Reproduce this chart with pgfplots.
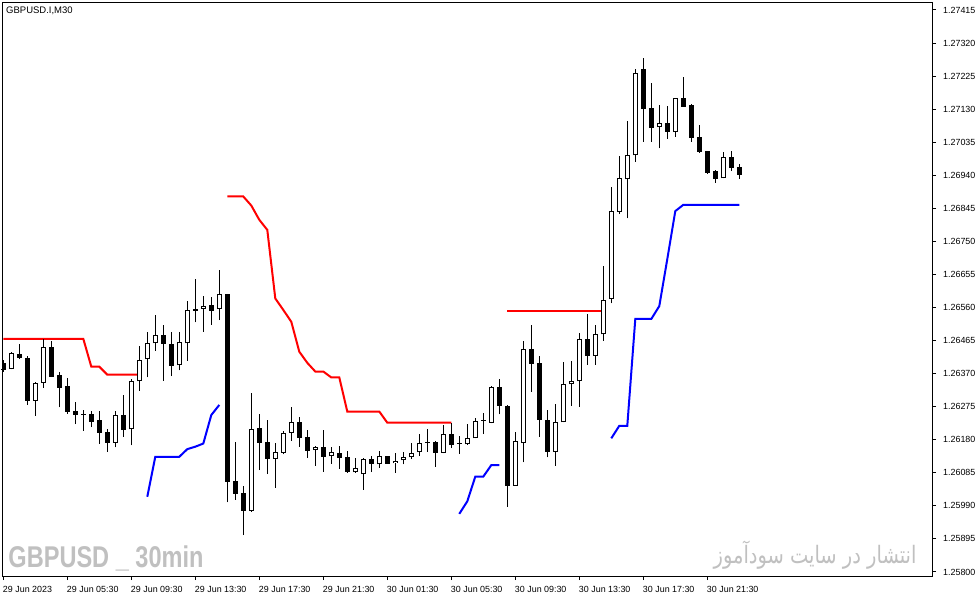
\documentclass[border=0pt]{standalone}
\usepackage{fontspec}
\setmainfont{Liberation Sans}
\newfontfamily\arabicfont[Script=Arabic]{DejaVu Sans}
\TeXXeTstate=1
\usepackage{graphicx}
\usepackage{pgfplots}
\usepackage{pgfplotstable}
\pgfplotsset{compat=1.18}

\definecolor{wm}{RGB}{192,192,192}

% bar index, open, high, low, close (M30, from 29 Jun 01:30)
\pgfplotstableread{
k  o       h       l       c
1  1.26384 1.26433 1.26382 1.26428
4  1.26292 1.26346 1.26249 1.26343
5  1.26344 1.26469 1.26330 1.26446
14 1.26172 1.26264 1.26158 1.26250
16 1.26210 1.26355 1.26164 1.26348
17 1.26348 1.26448 1.26321 1.26409
18 1.26411 1.26490 1.26359 1.26457
19 1.26457 1.26539 1.26436 1.26480
22 1.26394 1.26490 1.26379 1.26461
23 1.26457 1.26578 1.26407 1.26553
25 1.26557 1.26593 1.26490 1.26564
27 1.26555 1.26668 1.26524 1.26599
31 1.25976 1.26313 1.25973 1.26210
34 1.26125 1.26170 1.26042 1.26144
35 1.26143 1.26205 1.26138 1.26200
36 1.26200 1.26275 1.26177 1.26230
39 1.26150 1.26162 1.26105 1.26159
41 1.26132 1.26160 1.26111 1.26144
44 1.26086 1.26127 1.26085 1.26098
45 1.26081 1.26127 1.26036 1.26124
47 1.26109 1.26148 1.26100 1.26134
49 1.26112 1.26141 1.26085 1.26118
50 1.26121 1.26144 1.26109 1.26129
51 1.26129 1.26172 1.26124 1.26141
52 1.26144 1.26197 1.26133 1.26170
55 1.26143 1.26222 1.26141 1.26196
58 1.26167 1.26224 1.26166 1.26184
59 1.26184 1.26242 1.26184 1.26234
61 1.26229 1.26334 1.26227 1.26331
64 1.26048 1.26202 1.26048 1.26176
65 1.26170 1.26464 1.26115 1.26440
69 1.26146 1.26283 1.26105 1.26230
70 1.26230 1.26403 1.26230 1.26339
71 1.26339 1.26407 1.26278 1.26348
72 1.26348 1.26486 1.26275 1.26469
74 1.26422 1.26510 1.26396 1.26483
75 1.26483 1.26679 1.26465 1.26582
76 1.26584 1.26905 1.26572 1.26838
77 1.26835 1.26995 1.26828 1.26931
78 1.26928 1.27096 1.26816 1.26997
79 1.26997 1.27244 1.26979 1.27233
82 1.27078 1.27142 1.27017 1.27089
84 1.27064 1.27163 1.27051 1.27161
90 1.26931 1.27007 1.26931 1.26992
}\bull

\pgfplotstableread{
k  o       h       l       c
0  1.26401 1.26409 1.26375 1.26382
2  1.26426 1.26455 1.26413 1.26416
3  1.26415 1.26422 1.26281 1.26292
6  1.26446 1.26465 1.26360 1.26363
7  1.26365 1.26375 1.26273 1.26331
8  1.26334 1.26357 1.26254 1.26260
9  1.26262 1.26288 1.26225 1.26252
10 1.26253 1.26266 1.26206 1.26253
11 1.26254 1.26263 1.26216 1.26232
12 1.26237 1.26264 1.26168 1.26200
13 1.26202 1.26210 1.26146 1.26172
15 1.26250 1.26309 1.26189 1.26210
20 1.26480 1.26510 1.26350 1.26457
21 1.26455 1.26490 1.26363 1.26394
24 1.26555 1.26643 1.26517 1.26551
26 1.26568 1.26589 1.26511 1.26551
28 1.26599 1.26600 1.26000 1.26060
29 1.26061 1.26174 1.26007 1.26026
30 1.26026 1.26047 1.25906 1.25976
32 1.26213 1.26254 1.26093 1.26172
33 1.26173 1.26237 1.26081 1.26125
37 1.26230 1.26246 1.26160 1.26187
38 1.26187 1.26208 1.26128 1.26148
40 1.26160 1.26208 1.26088 1.26132
42 1.26141 1.26162 1.26096 1.26129
43 1.26129 1.26148 1.26085 1.26088
46 1.26124 1.26133 1.26087 1.26112
48 1.26132 1.26132 1.26112 1.26112
53 1.26173 1.26210 1.26145 1.26173
54 1.26173 1.26175 1.26102 1.26144
56 1.26196 1.26227 1.26156 1.26167
57 1.26169 1.26191 1.26140 1.26169
60 1.26234 1.26256 1.26196 1.26234
62 1.26331 1.26354 1.26253 1.26278
63 1.26277 1.26280 1.25988 1.26048
66 1.26440 1.26510 1.26318 1.26400
67 1.26400 1.26421 1.26189 1.26239
68 1.26237 1.26266 1.26129 1.26146
73 1.26469 1.26541 1.26396 1.26422
80 1.27244 1.27277 1.27037 1.27131
81 1.27132 1.27205 1.27037 1.27077
83 1.27089 1.27139 1.27045 1.27065
85 1.27161 1.27222 1.27137 1.27137
86 1.27142 1.27145 1.27037 1.27048
87 1.27049 1.27085 1.27005 1.27008
88 1.27010 1.27010 1.26945 1.26947
89 1.26952 1.26955 1.26919 1.26930
91 1.26993 1.27010 1.26952 1.26962
92 1.26963 1.26973 1.26930 1.26942
}\bear

\begin{document}
\begin{tikzpicture}
\fill[white] (0,0) rectangle (978bp,597bp);
\path[use as bounding box] (0,0) rectangle (978bp,597bp);

\begin{axis}[
  at={(2.5bp,21bp)}, anchor=south west,
  scale only axis, width=929.5bp, height=573.5bp,
  xmin=-0.1, xmax=116.09,
  ymin=1.257884, ymax=1.274365,
  axis line style={line width=1bp, black},
  tick style={line width=1bp, black},
  tick align=outside, major tick length=4bp,
  xtick pos=lower, ytick pos=right,
  xtick={0,8,...,88},
  xticklabels={29 Jun 2023, 29 Jun 05:30, 29 Jun 09:30, 29 Jun 13:30,
    29 Jun 17:30, 29 Jun 21:30, 30 Jun 01:30, 30 Jun 05:30,
    30 Jun 09:30, 30 Jun 13:30, 30 Jun 17:30, 30 Jun 21:30},
  ytick={1.258,1.25895,1.2599,1.26085,1.2618,1.26275,1.2637,1.26465,1.2656,
    1.26655,1.2675,1.26845,1.2694,1.27035,1.2713,1.27225,1.2732,1.27415},
  yticklabels={1.25800,1.25895,1.25990,1.26085,1.26180,1.26275,1.26370,
    1.26465,1.26560,1.26655,1.26750,1.26845,1.26940,1.27035,1.27130,
    1.27225,1.27320,1.27415},
  ticklabel style={font=\fontsize{8.9bp}{10bp}\selectfont, inner sep=0pt},
  xticklabel style={anchor=north west, xshift=-0.5bp, yshift=-5.7bp},
  yticklabel style={anchor=west, xshift=7bp},
]

% trailing stop lines
\addplot[red, line width=2bp] coordinates {
  (0,1.26470) (1,1.26470) (2,1.26470) (3,1.26470) (4,1.26470) (5,1.26470)
  (6,1.26470) (7,1.26470) (8,1.26470) (9,1.26470) (10,1.26470)
  (11,1.26390) (12,1.26390) (13,1.26367) (14,1.26367) (15,1.26367)
  (16,1.26367) (17,1.26367)};
\addplot[red, line width=2bp] coordinates {
  (28,1.26879) (29,1.26879) (30,1.26879) (31,1.26853) (32,1.26812)
  (33,1.26783) (34,1.26586) (35,1.26553) (36,1.26519) (37,1.26433)
  (38,1.26401) (39,1.26376) (40,1.26376) (41,1.26359) (42,1.26359)
  (43,1.26261) (44,1.26261) (45,1.26261) (46,1.26261) (47,1.26261)
  (48,1.26229) (49,1.26229) (50,1.26229) (51,1.26229) (52,1.26229)
  (53,1.26229) (54,1.26229) (55,1.26229) (56,1.26229)};
\addplot[red, line width=2bp] coordinates {
  (63,1.26551) (64,1.26551) (65,1.26551) (66,1.26551) (67,1.26551)
  (68,1.26551) (69,1.26551) (70,1.26551) (71,1.26551) (72,1.26551)
  (73,1.26551) (74,1.26551) (75,1.26551)};
\addplot[blue, line width=2bp] coordinates {
  (18,1.26016) (19,1.26131) (20,1.26131) (21,1.26131) (22,1.26131)
  (23,1.26153) (24,1.26160) (25,1.26169) (26,1.26251) (27,1.26280)};
\addplot[blue, line width=2bp] coordinates {
  (57,1.25967) (58,1.26003) (59,1.26074) (60,1.26074) (61,1.26107)
  (62,1.26107)};
\addplot[blue, line width=2bp] coordinates {
  (76,1.26184) (77,1.26220) (78,1.26220) (79,1.26527) (80,1.26527)
  (81,1.26527) (82,1.26564) (83,1.26699) (84,1.26837) (85,1.26855)
  (86,1.26855) (87,1.26855) (88,1.26855) (89,1.26855) (90,1.26855)
  (91,1.26855) (92,1.26855)};

% wicks
\addplot[draw=none, mark=none, error bars/.cd, y dir=plus, y explicit,
  error mark=none, error bar style={draw=black, line width=1bp}]
  table[x=k, y=l, y error expr=\thisrow{h}-\thisrow{l}] {\bull};
\addplot[draw=none, mark=none, error bars/.cd, y dir=plus, y explicit,
  error mark=none, error bar style={draw=black, line width=1bp}]
  table[x=k, y=l, y error expr=\thisrow{h}-\thisrow{l}] {\bear};

% bearish bodies
\addplot[only marks, mark=-, mark size=2.5bp,
  mark options={line width=1bp, black},
  error bars/.cd, y dir=plus, y explicit,
  error mark=none, error bar style={draw=black, line width=5bp}]
  table[x=k, y=c, y error expr=\thisrow{o}-\thisrow{c}] {\bear};

% bullish bodies: black box, white inside
\addplot[draw=none, mark=none, error bars/.cd, y dir=plus, y explicit,
  error mark=none, error bar style={draw=black, line width=5bp}]
  table[x=k, y=o, y error expr=\thisrow{c}-\thisrow{o}] {\bull};
\addplot[draw=none, mark=none, error bars/.cd, y dir=plus, y explicit,
  error mark=none,
  error bar style={draw=white, line width=3bp, shorten <=1bp, shorten >=1bp}]
  table[x=k, y=o, y error expr=\thisrow{c}-\thisrow{o}] {\bull};

\end{axis}

\node[anchor=base west, inner sep=0pt] at (6bp,583bp)
  {\fontsize{9.5bp}{10bp}\selectfont GBPUSD.I,M30};
\node[anchor=base west, inner sep=0pt, text=wm] at (8.3bp,29.7bp)
  {\scalebox{0.785}[1]{\fontsize{30bp}{30bp}\selectfont\bfseries GBPUSD \_ 30min}};
\node[anchor=base east, inner sep=0pt, text=wm] at (916.7bp,34bp)
  {\scalebox{0.81}[1]{\fontsize{24bp}{24bp}\selectfont\arabicfont\beginR انتشار در سایت سودآموز\endR}};
\end{tikzpicture}
\end{document}
